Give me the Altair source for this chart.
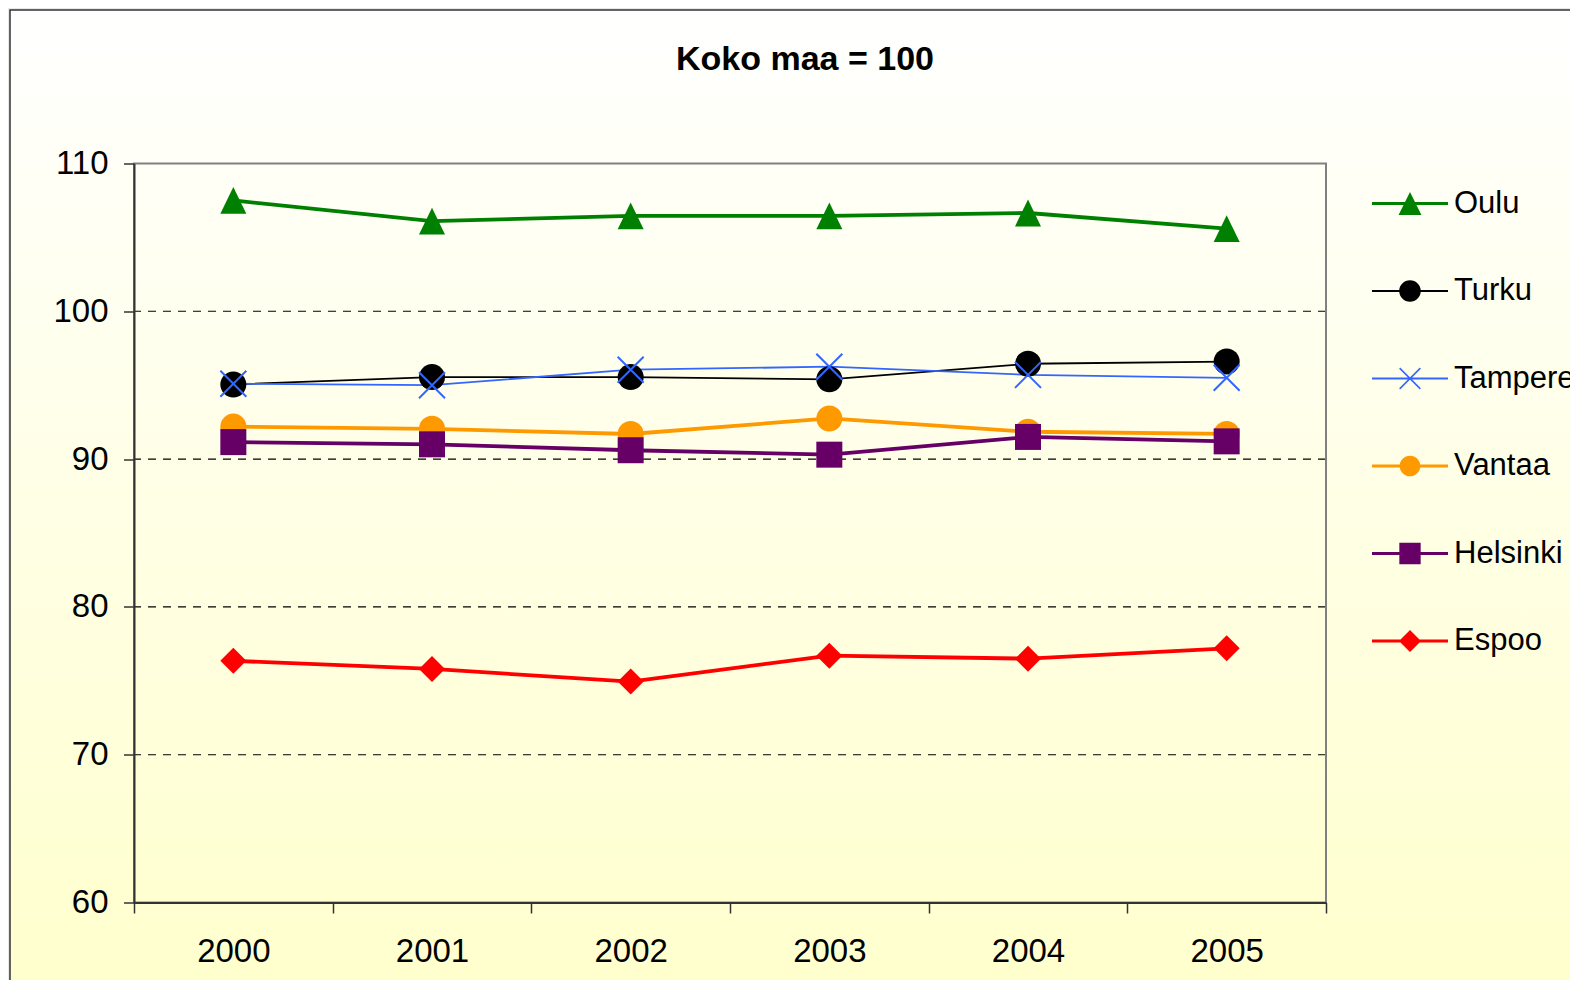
import altair as alt
import pandas as pd

# ---------------- data ----------------
years = ["2000", "2001", "2002", "2003", "2004", "2005"]
cities = ["Oulu", "Turku", "Tampere", "Vantaa", "Helsinki", "Espoo"]
oulu = [107.5, 106.1, 106.45, 106.45, 106.65, 105.6]
turku = [95.05, 95.55, 95.55, 95.4, 96.45, 96.6]
tampere = [95.1, 95.0, 96.05, 96.25, 95.7, 95.5]
vantaa = [92.2, 92.05, 91.7, 92.75, 91.85, 91.7]
helsinki = [91.15, 91.0, 90.6, 90.3, 91.5, 91.2]
espoo = [76.35, 75.8, 74.95, 76.7, 76.5, 77.2]
y_ticks = [60, 70, 80, 90, 100, 110]
grid_values = [70, 80, 90, 100]
title_text = "Koko maa = 100"

# ---------------- styles ----------------
colors = ["#008000", "#000000", "#3366FF", "#FF9900", "#660066", "#FF0000"]
line_widths = [3.8, 1.8, 1.8, 3.8, 3.8, 3.8]
FONT = "Liberation Sans"
W, H = 1192, 739


def poly(pts):
    n = len(pts)
    a = sum(pts[i][0] * pts[(i + 1) % n][1] - pts[(i + 1) % n][0] * pts[i][1] for i in range(n))
    if a < 0:
        pts = pts[::-1]
    return "M" + "L".join(f"{x:.4f},{y:.4f}" for x, y in pts) + "Z"


def bar(x0, y0, x1, y1, h):
    dx, dy = x1 - x0, y1 - y0
    ln = (dx * dx + dy * dy) ** 0.5
    nx, ny = -dy / ln * h, dx / ln * h
    return poly([(x0 + nx, y0 + ny), (x1 + nx, y1 + ny), (x1 - nx, y1 - ny), (x0 - nx, y0 - ny)])


def circ(r):
    return f"M{r},0A{r},{r},0,1,1,{-r},0A{r},{r},0,1,1,{r},0Z"


# plot markers (unit = 13 px)
tri = poly([(0, -1.03), (1, 1.03), (-1, 1.03)])
xmark = bar(-1, -1, 1, 1, 0.077) + bar(-1, 1, 1, -1, 0.077)
marker_shapes = [tri, "circle", xmark, "circle", "square", "diamond"]

# legend symbols (unit = 22 px): line segment + marker
LU = 22.0
LH = 38.0 / LU
def seg(w):
    return bar(-LH, 0, LH, 0, w / 2 / LU)

legend_marks = [
    poly([(0, -0.52), (0.52, 0.52), (-0.52, 0.52)]),
    circ(0.49),
    bar(-0.47, -0.47, 0.47, 0.47, 0.035) + bar(-0.47, 0.47, 0.47, -0.47, 0.035),
    circ(0.47),
    poly([(-0.485, -0.485), (0.485, -0.485), (0.485, 0.485), (-0.485, 0.485)]),
    poly([(-0.5, 0), (0, -0.5), (0.5, 0), (0, 0.5)]),
]
legend_shapes = [seg(min(w, 3.2)) + m for w, m in zip(line_widths, legend_marks)]

series = dict(zip(cities, [oulu, turku, tampere, vantaa, helsinki, espoo]))
df = pd.DataFrame(
    [{"city": c, "year": y, "value": v} for c in cities for y, v in zip(years, series[c])]
)
thin_cities = [c for c, w in zip(cities, line_widths) if w < 2]

x_scale = alt.Scale(type="band", domain=years, paddingInner=0, paddingOuter=0)
y_scale = alt.Scale(domain=[60, 110], nice=False, zero=False)

x_axis = alt.Axis(
    title=None, labelAngle=0, labelFont=FONT, labelFontSize=33, labelColor="black",
    tickBand="extent", tickSize=10.5, tickColor="#333333", tickWidth=1.5,
    domainColor="#333333", domainWidth=2, labelPadding=22.5, grid=False, zindex=1,
)
y_axis = alt.Axis(
    title=None, values=y_ticks, labelFont=FONT, labelFontSize=33, labelColor="black",
    tickSize=10.5, tickColor="#333333", tickWidth=1.5, domainColor="#333333",
    domainWidth=2, labelPadding=15.5, grid=False, zindex=1,
)

# gradient background with chart border
bg = alt.Chart(pd.DataFrame({"k": [0]})).mark_rect(
    fill=alt.LinearGradient(
        gradient="linear",
        stops=[alt.GradientStop(color="#FFFFFF", offset=0),
               alt.GradientStop(color="#FFFFCC", offset=1)],
        x1=0, x2=0, y1=0, y2=1,
    ),
    stroke="#333333", strokeWidth=1.5,
).encode(x=alt.value(-124), x2=alt.value(1470), y=alt.value(-153.5), y2=alt.value(850))

grid = alt.Chart(pd.DataFrame({"g": grid_values})).mark_rule(
    color="#000000", strokeWidth=1.1, strokeDash=[8, 7]
).encode(y=alt.Y("g:Q", scale=y_scale, axis=y_axis))

frame = alt.Chart(pd.DataFrame({"k": [0]})).mark_rect(
    fillOpacity=0, stroke="#808080", strokeWidth=2
).encode(x=alt.value(0), x2=alt.value(W), y=alt.value(0), y2=alt.value(H))

lines = alt.Chart(df).mark_line(opacity=1).encode(
    x=alt.X("year:O", scale=x_scale, axis=x_axis),
    y=alt.Y("value:Q", scale=y_scale, axis=y_axis),
    color=alt.Color("city:N", scale=alt.Scale(domain=cities, range=colors), legend=None),
    strokeWidth=alt.condition(
        alt.FieldOneOfPredicate(field="city", oneOf=thin_cities), alt.value(1.8), alt.value(3.8)
    ),
)

points = alt.Chart(df).mark_point(filled=True, opacity=1, size=676, strokeWidth=0).encode(
    x=alt.X("year:O", scale=x_scale, axis=x_axis),
    y=alt.Y("value:Q", scale=y_scale, axis=y_axis),
    fill=alt.Fill("city:N", scale=alt.Scale(domain=cities, range=colors), legend=None),
    shape=alt.Shape("city:N", scale=alt.Scale(domain=cities, range=marker_shapes), legend=None),
)

leg = alt.Legend(
    orient="none", legendX=1254, legendY=18, title=None, padding=0,
    labelFont=FONT, labelFontSize=31, labelColor="black", labelOffset=22, labelLimit=0,
    symbolSize=1936, symbolStrokeWidth=0, symbolOpacity=1, rowPadding=50.5,
)
legend_layer = alt.Chart(df).transform_filter("false").mark_point(
    filled=True, opacity=1, size=1936, strokeWidth=0
).encode(
    fill=alt.Fill("city:N", scale=alt.Scale(domain=cities, range=colors), legend=leg),
    shape=alt.Shape("city:N", scale=alt.Scale(domain=cities, range=legend_shapes), legend=leg),
)

title = alt.Chart(pd.DataFrame({"t": [title_text]})).mark_text(
    font=FONT, fontSize=34, fontWeight="bold", align="center", baseline="alphabetic", color="black"
).encode(text="t:N", x=alt.value(671), y=alt.value(-93.5))

chart = alt.layer(bg, grid, frame, lines, points, legend_layer, title).resolve_scale(
    fill="independent", shape="independent", color="independent"
).properties(
    width=W, height=H,
    autosize=alt.AutoSizeParams(type="none"),
    padding={"left": 126, "top": 155.5, "right": 244, "bottom": 77.5},
).configure(background="#E8E8E8").configure_view(stroke=None)

chart.save("out.html", embed_options={"renderer": "svg", "actions": False})
